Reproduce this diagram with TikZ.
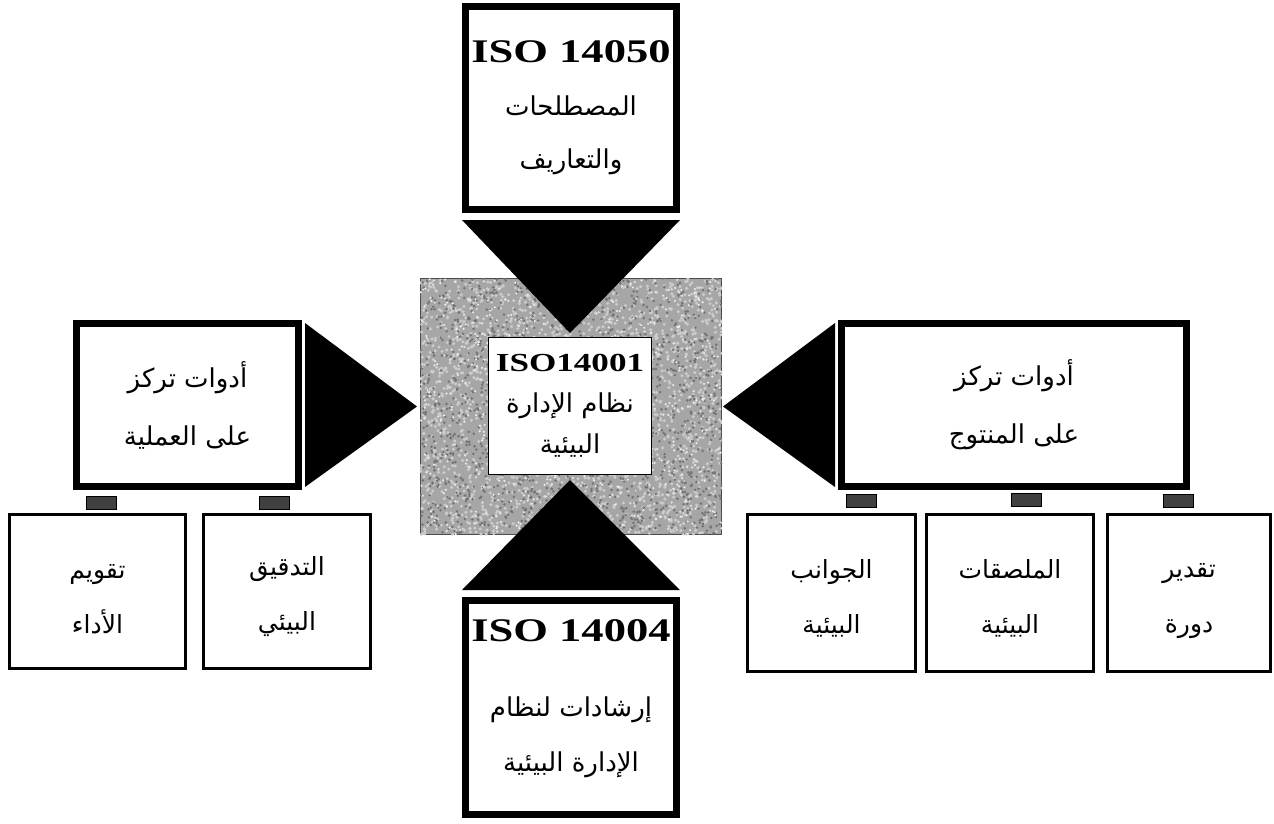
\documentclass[tikz,border=0pt]{standalone}
\usepackage{fontspec}
\setmainfont{Liberation Serif}
\newfontfamily\arabicfont[Script=Arabic]{DejaVu Sans}
\newfontfamily\isofont[FakeStretch=1.35]{Liberation Serif}
\TeXXeTstate=1
\newcommand{\ar}[1]{{\arabicfont\beginR #1\endR}}
\newcommand{\iso}[1]{{\isofont\bfseries #1}}

\begin{document}
\begin{tikzpicture}[x=1pt, y=-1pt, every node/.style={align=center, inner sep=0pt},
		bigbox/.style={draw, line width=7pt, fill=white, font=\fontsize{26}{58}\selectfont},
		cellbox/.style={draw, line width=2.5pt, minimum width=167, minimum height=154,
		font=\fontsize{25}{55}\selectfont},
		tab/.style={draw, line width=0.8pt, fill=black!75, minimum width=30, minimum height=13},
		wedge/.style={fill=black} ]
	\useasboundingbox (0,0) rectangle (1274,823);
	\pgfmathsetseed{42}
	% central square with speckled grey
	\node[draw=black!70, line width=1pt, fill=black!35, minimum width=301, minimum height=256]
		(hub) at (571,406.5) {};
	\begin{scope}
		\clip (hub.south west) rectangle (hub.north east);
		\foreach \i in {1,...,2200} \fill[black!20] (hub.center) ++(151*rand,128*rand) circle (1.7);
		\foreach \i in {1,...,1600} \fill[black!55] (hub.center) ++(151*rand,128*rand) circle (1.4);
		\foreach \i in {1,...,700} \fill[black!8] (hub.center) ++(151*rand,128*rand) circle (1.2);
	\end{scope}
	\node[draw, line width=1pt, fill=white, minimum width=163, minimum height=137,
		font=\fontsize{26}{41}\selectfont] (core) at (570,406)
		{\iso{\fontsize{26}{41}\selectfont ISO14001}\\ \ar{نظام الإدارة}\\ \ar{البيئية}};
	% the four standards
	\node[bigbox, minimum width=211, minimum height=203, font=\fontsize{26}{53}\selectfont]
		(iso50) at (571,108) {\iso{\fontsize{33}{53}\selectfont ISO 14050}\\ \ar{المصطلحات}\\ \ar{والتعاريف}};
	\node[bigbox, minimum width=211, minimum height=214, font=\fontsize{26}{55}\selectfont]
		(iso04) at (571,707.5) {\iso{\fontsize{33}{55}\selectfont ISO 14004}\\[20pt] \ar{إرشادات لنظام}\\
		\ar{الإدارة البيئية}\rule[-24pt]{0pt}{0pt}};
	\node[bigbox, minimum width=222, minimum height=163] (proc) at (187.5,405)
		{\ar{أدوات تركز}\\ \ar{على العملية}};
	\node[bigbox, minimum width=345, minimum height=163] (prod) at (1014,405)
		{\ar{أدوات تركز}\\ \ar{على المنتوج}};
	% wedges pointing at the centre
	\fill[wedge] ([yshift=-7pt]iso50.south west) -- ([yshift=-7pt]iso50.south east) -- ([yshift=4pt]core.north) -- cycle;
	\fill[wedge] ([yshift=7pt]iso04.north west) -- ([yshift=7pt]iso04.north east) -- ([yshift=-5pt]core.south) -- cycle;
	\fill[wedge] ([xshift=3pt,yshift=-3pt]proc.north east) -- ([xshift=3pt,yshift=3pt]proc.south east) -- ([xshift=-3pt]hub.west) -- cycle;
	\fill[wedge] ([xshift=-3pt,yshift=-3pt]prod.north west) -- ([xshift=-3pt,yshift=3pt]prod.south west) -- ([xshift=1pt]hub.east) -- cycle;
	% tools below
	\node[cellbox, minimum width=176] (perf) at (97.5,591.5) {\rule{0pt}{30pt}\ar{تقويم}\\ \ar{الأداء}};
	\node[cellbox] (audit) at (287,591.5) {\rule{0pt}{30pt}\ar{التدقيق}\\ \ar{البيئي}};
	\node[cellbox, minimum width=168, minimum height=157] (aspect) at (831.5,593) {\rule{0pt}{30pt}\ar{الجوانب}\\ \ar{البيئية}};
	\node[cellbox, minimum height=157] (label) at (1010,593) {\rule{0pt}{30pt}\ar{الملصقات}\\ \ar{البيئية}};
	\node[cellbox, minimum width=163, minimum height=157] (cycle) at (1189,593) {\rule{0pt}{30pt}\ar{تقدير}\\ \ar{دورة}};
	\node[tab] (t1) at (101.5,502.5) {};
	\node[tab] (t2) at (274,502.5) {};
	\node[tab] (t3) at (861,501) {};
	\node[tab] (t4) at (1026.5,500) {};
	\node[tab] (t5) at (1178,501) {};
\end{tikzpicture}
\end{document}
